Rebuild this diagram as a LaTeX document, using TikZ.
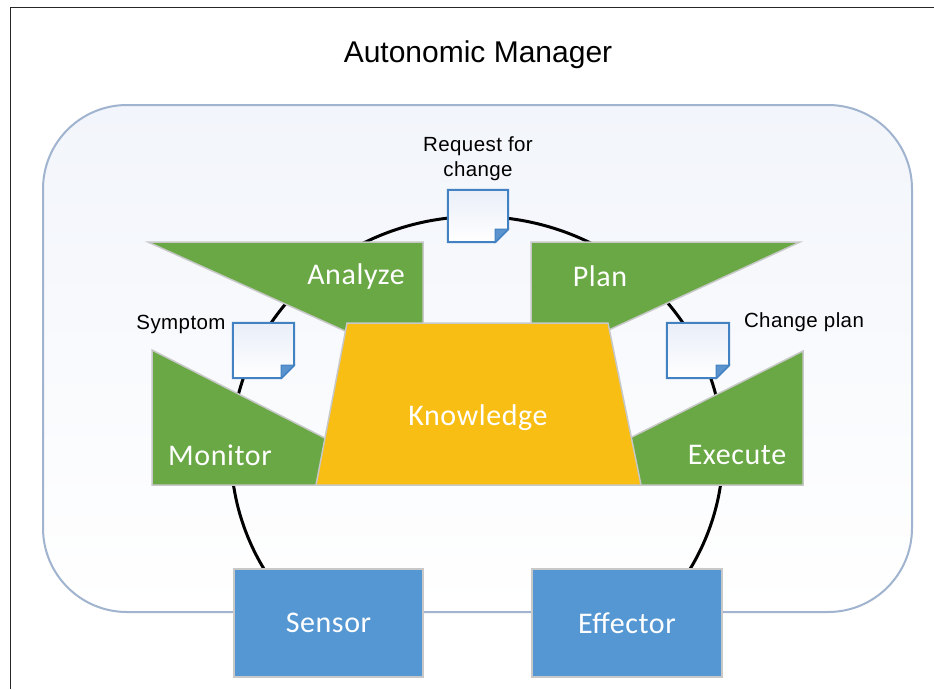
\documentclass[tikz,border=0pt]{standalone}
\usepackage{fontspec}
\setmainfont{Liberation Sans}
\newfontfamily\calfont[LetterSpace=2]{Carlito}
\newfontfamily\lblfont[LetterSpace=2]{Liberation Sans}
\usetikzlibrary{calc}
\definecolor{mgrline}{HTML}{A0B3CF}
\definecolor{mgrfill}{HTML}{F2F5FB}
\definecolor{greenc}{HTML}{69A845}
\definecolor{goldc}{HTML}{F9BE14}
\definecolor{boxblue}{HTML}{5597D3}
\definecolor{edgegrey}{HTML}{C8C8C8}
\definecolor{docline}{HTML}{4282C2}
\definecolor{docfold}{HTML}{5B93CF}
\definecolor{docfill}{HTML}{E9EEF8}
\newcommand{\drawdocicon}[1]{%
  \path[docbody] (#1.north west) -- (#1.north east) -- ([yshift=13pt]#1.south east)
     -- ([xshift=-13pt]#1.south east) -- (#1.south west) -- cycle;
  \path[docflap] ($(#1.south east)+(-13,-13)$) -- ($(#1.south east)+(0,-13)$)
     -- ($(#1.south east)+(-13,0)$) -- cycle;}
\begin{document}
\begin{tikzpicture}[x=1pt,y=-1pt,
  framel/.style={draw=black!85,line width=1pt},
  mgrbox/.style={draw=mgrline,line width=2pt,rounded corners=84pt,top color=mgrfill,bottom color=white,inner sep=0pt},
  cycleline/.style={draw=black,line width=3pt},
  greenshape/.style={fill=greenc,draw=edgegrey,line width=1.5pt,line join=miter},
  goldshape/.style={fill=goldc,draw=edgegrey,line width=1.5pt},
  whitelbl/.style={text=white,font=\calfont\fontsize{30}{32}\selectfont,inner sep=0pt},
  blacklbl/.style={text=black,font=\lblfont\fontsize{20.5}{25}\selectfont,inner sep=0pt,align=center},
  titlelbl/.style={text=black,font=\fontsize{30}{32}\selectfont,inner sep=0pt},
  bluebox/.style={fill=boxblue,draw=edgegrey,line width=2pt,inner sep=0pt,text=white,font=\calfont\fontsize{30}{32}\selectfont},
  docnode/.style={draw=none,inner sep=0pt},
  docbody/.style={draw=docline,line width=2pt,top color=docfill,bottom color=white,line join=miter},
  docflap/.style={fill=docfold,draw=docline,line width=1pt,line join=miter}
]
\useasboundingbox (0,0) rectangle (934,689);
\fill[white] (0,0) rectangle (934,689);
\draw[framel] (10,689) -- (10,7) -- (934,7);

% manager
\node[mgrbox,minimum width=869pt,minimum height=507pt] (mgr) at (477.5,358.5) {};
\node[titlelbl] (title) at (478,55) {Autonomic Manager};

\path (328.5,623) coordinate (sensorc) (627,623) coordinate (effectorc);

% cycle arc from sensor to effector
\coordinate (arcstart) at (264,569);
\draw[cycleline] (arcstart) arc[start angle=150,end angle=392,x radius=246,y radius=235];

% MAPE shapes
\filldraw[greenshape] (148,242) -- (423,242) -- (423,340) -- (365,340) -- cycle;
\filldraw[greenshape] (531,242) -- (800,242) -- (587,340) -- (531,340) -- cycle;
\filldraw[greenshape] (152,350) -- (340,445.7) -- (340,485) -- (152,485) -- cycle;
\filldraw[greenshape] (803,351) -- (803,485) -- (620,485) -- (620,443) -- cycle;
\filldraw[goldshape] (347,323) -- (608,323) -- (641,485) -- (316,485) -- cycle;

\node[whitelbl] (analyze) at (356,276) {Analyze};
\node[whitelbl] (plan) at (600,276) {Plan};
\node[whitelbl] (monitor) at (220,455) {Monitor};
\node[whitelbl] (execute) at (737,455) {Execute};
\node[whitelbl] (knowledge) at (478,418) {Knowledge};

% documents
\node[docnode,minimum width=60pt,minimum height=52pt] (req) at (478,216) {};
\node[docnode,minimum width=61pt,minimum height=55pt] (sym) at (263.5,350.5) {};
\node[docnode,minimum width=62pt,minimum height=55pt] (chg) at (698,350.5) {};
\drawdocicon{req}
\drawdocicon{sym}
\drawdocicon{chg}

\node[blacklbl] (reqlbl) at (478,159) {Request for\\change};
\node[blacklbl] (symlbl) at (181,324) {Symptom};
\node[blacklbl] (chglbl) at (804,322) {Change plan};

% sensor / effector
\node[bluebox,minimum width=189pt,minimum height=108pt] (sensor) at (sensorc) {Sensor};
\node[bluebox,minimum width=190pt,minimum height=108pt] (effector) at (effectorc) {Effector};
\end{tikzpicture}
\end{document}
